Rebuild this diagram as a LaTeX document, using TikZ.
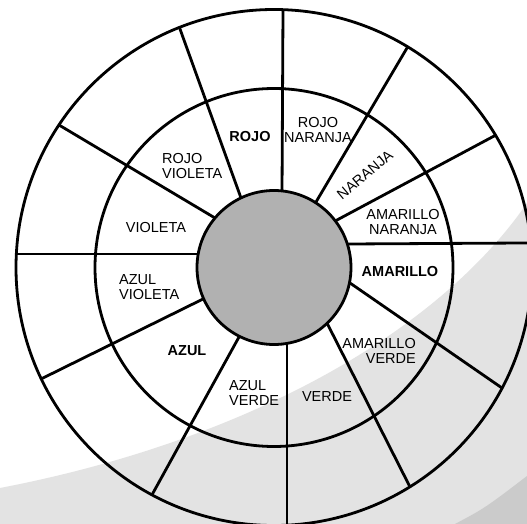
\documentclass[tikz,border=0pt]{standalone}
\usepackage{fontspec}
\setmainfont{Liberation Sans}
\usetikzlibrary{calc}
\definecolor{swoosh}{HTML}{E3E3E3}
\definecolor{swooshdark}{HTML}{CBCBCB}
\definecolor{hub}{HTML}{B1B1B1}
\tikzset{
  wheel/.style={line width=2.8pt, draw=black},
  lbl/.style={font=\fontsize{14.5}{14.5}\selectfont, inner sep=0pt, align=center},
  blbl/.style={lbl, font=\fontsize{14.5}{14.5}\selectfont\bfseries},
}
\begin{document}
\begin{tikzpicture}[x=1pt,y=-1pt]
\useasboundingbox (0,0) rectangle (527,524);
\fill[white] (0,0) rectangle (527,524);
\begin{scope}
\clip (0,0) rectangle (527,524);
\fill[swoosh] (0,488) .. controls (250,440) and (440,330) .. (527,203) -- (527,524) -- (0,524) -- cycle;
\fill[swooshdark] (455,524) .. controls (485,508) .. (527,476) -- (527,524) -- cycle;
\end{scope}
\coordinate (C) at (274,267.5);
% spokes: inner point, outer point
\coordinate (i1) at (282,193);  \coordinate (o1) at (283,10);
\coordinate (i2) at (316,202);  \coordinate (o2) at (407,48);
\coordinate (i3) at (337,220);  \coordinate (o3) at (496,135);
\coordinate (i4) at (348,244);  \coordinate (o4) at (523,243);
\coordinate (i5) at (350,283);  \coordinate (o5) at (502,388);
\coordinate (i6) at (328,325);  \coordinate (o6) at (409,485);
\coordinate (i7) at (287,343);  \coordinate (o7) at (287,524);
\coordinate (i8) at (239,337);  \coordinate (o8) at (153,493);
\coordinate (i9) at (203,299);  \coordinate (o9) at (43,378);
\coordinate (i10) at (198,254); \coordinate (o10) at (16,254);
\coordinate (i11) at (215,218); \coordinate (o11) at (59,125);
\coordinate (i12) at (241,198); \coordinate (o12) at (180,29);
\begin{scope}
\clip (C) circle (258);
\foreach \k in {1,...,12}{
  \draw[wheel] ($(o\k)!1.15!(i\k)$) -- ($(i\k)!1.1!(o\k)$);
}
\end{scope}
\draw[wheel] (C) circle (258);
\draw[wheel] (C) circle (179);
\draw[wheel, fill=hub] (C) circle (77);
% labels
\node[blbl] (rojo) at (250,137) {ROJO};
\node[lbl] (rojonaranja) at (318,130) {ROJO\\NARANJA};
\node[lbl, rotate=40] (naranja) at (365,175) {NARANJA};
\node[lbl] (amnaranja) at (403,222) {AMARILLO\\NARANJA};
\node[blbl] (amarillo) at (400,272) {AMARILLO};
\node[lbl, align=right, anchor=east] (amverde) at (416,351) {AMARILLO\\VERDE};
\node[lbl] (verde) at (327,397) {VERDE};
\node[lbl, align=left, anchor=west] (azulverde) at (229,393) {AZUL\\VERDE};
\node[blbl] (azul) at (187,351) {AZUL};
\node[lbl, align=left, anchor=west] (azulvioleta) at (119,287) {AZUL\\VIOLETA};
\node[lbl] (violeta) at (156,228) {VIOLETA};
\node[lbl, align=left, anchor=west] (rojovioleta) at (162,166) {ROJO\\VIOLETA};
\end{tikzpicture}
\end{document}
